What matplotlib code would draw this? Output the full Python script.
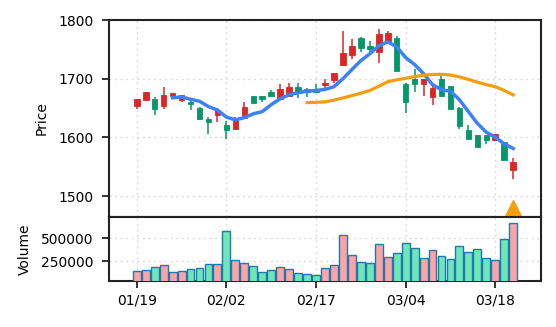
import numpy as np
import pandas as pd
import matplotlib
matplotlib.use("Agg")
import matplotlib.pyplot as plt

# daily candles (open / high / low / close) and volume
opens = [1653, 1664, 1665, 1653, 1670, 1664, 1660, 1650, 1631, 1638,
         1621, 1614, 1633, 1670, 1670, 1678, 1666, 1671, 1686, 1683,
         1683, 1689, 1698, 1724, 1741, 1770, 1755, 1745, 1764, 1769,
         1691, 1700, 1691, 1669, 1700, 1687, 1650, 1612, 1604, 1604,
         1595, 1592, 1544]
highs = [1666, 1678, 1669, 1686, 1676, 1673, 1663, 1651, 1634, 1650,
         1628, 1635, 1661, 1671, 1671, 1681, 1691, 1693, 1692, 1684,
         1691, 1699, 1710, 1782, 1768, 1771, 1764, 1785, 1781, 1772,
         1692, 1716, 1700, 1688, 1704, 1688, 1651, 1622, 1605, 1605,
         1606, 1593, 1565]
lows = [1649, 1662, 1639, 1649, 1669, 1661, 1647, 1630, 1606, 1627,
        1597, 1612, 1631, 1658, 1661, 1669, 1665, 1670, 1667, 1669,
        1675, 1684, 1692, 1721, 1733, 1745, 1744, 1726, 1762, 1714,
        1642, 1678, 1670, 1656, 1670, 1648, 1615, 1597, 1583, 1588,
        1594, 1562, 1529]
closes = [1665, 1677, 1648, 1673, 1675, 1672, 1657, 1631.5, 1627, 1646,
          1612, 1633, 1651, 1659, 1665, 1671, 1683, 1686, 1676, 1678,
          1677, 1692, 1709, 1744, 1756, 1753, 1750, 1777, 1778, 1714,
          1661, 1691, 1699, 1684, 1671, 1648, 1619, 1598, 1584, 1595,
          1606, 1562, 1559]
volumes = [144900, 155800, 188400, 210100, 134000, 145000, 166700, 177500, 221000, 221000,
           579700, 264500, 231900, 199300, 134000, 155800, 188400, 166700, 123000, 112300,
           101500, 177500, 210100, 536200, 318800, 242800, 231900, 438400, 297100, 340600,
           449300, 394900, 286200, 373200, 308000, 275400, 416700, 351400, 384100, 286200,
           264500, 492700, 666600]
tick_pos = [0, 10, 20, 30, 40]
tick_labels = ["01/19", "02/02", "02/17", "03/04", "03/18"]
signal_idx = [42]
signal_price = [1480]

df = pd.DataFrame({"Open": opens, "High": highs, "Low": lows,
                   "Close": closes, "Volume": volumes})
df["MA5"] = df["Close"].rolling(5).mean()
df["MA20"] = df["Close"].rolling(20).mean()
x = np.arange(len(df))
up = df["Close"] >= df["Open"]

up_col, down_col = "#dc2626", "#059669"
vol_up, vol_down = "#fca5a5", "#6ee7b7"

plt.rcParams["font.family"] = "DejaVu Sans"
fig = plt.figure(figsize=(5.56, 3.27), dpi=100)
ax = fig.add_axes([0.196, 0.3373, 0.777, 0.6015])
axv = fig.add_axes([0.196, 0.1398, 0.777, 0.1975], sharex=ax)

# candles
cols = np.where(up, up_col, down_col)
ax.vlines(x, df["Low"], df["High"], colors=cols, linewidth=1.1, zorder=2)
body_lo = np.minimum(df["Open"], df["Close"])
body_h = np.maximum(np.abs(df["Close"] - df["Open"]), 0.8)
ax.bar(x, body_h, bottom=body_lo, width=0.62, color=cols, edgecolor=cols,
       linewidth=0.6, zorder=3)

# moving averages
ax.plot(x, df["MA5"], color="#3b82f6", linewidth=2.5, zorder=4)
ax.plot(x, df["MA20"], color="#f59e0b", linewidth=2.3, zorder=4)
ax.plot(signal_idx, signal_price, linestyle="none", marker="^", markersize=12,
        color="#f59e0b", zorder=5, clip_on=True)

ax.set_ylim(1465, 1800)
ax.set_yticks([1500, 1600, 1700, 1800])
ax.set_ylabel("Price", fontsize=10, labelpad=7)
ax.set_xlim(-3.1, 45.1)
ax.tick_params(axis="x", which="both", bottom=False, labelbottom=False)

# volume
vcols = np.where(up, vol_up, vol_down)
axv.bar(x, df["Volume"], width=0.88, color=vcols, edgecolor="#1f77b4",
        linewidth=1.0, zorder=3)
axv.set_ylim(0.3 * min(volumes), 1.1 * max(volumes))
axv.set_yticks([250000, 500000])
axv.set_yticklabels(["250000", "500000"])
axv.set_ylabel("Volume", fontsize=10, labelpad=7)
axv.set_xticks(tick_pos)
axv.set_xticklabels(tick_labels)

for a in (ax, axv):
    a.grid(True, linestyle=(0, (1.5, 2.5)), color="#dddddd", linewidth=1.0, zorder=0)
    a.set_axisbelow(True)
    a.tick_params(labelsize=10, length=5, width=1.3, color="#222222")
    a.tick_params(axis="y", pad=6)
    for s in a.spines.values():
        s.set_linewidth(1.5)
        s.set_color("#222222")

fig.savefig("out.png", dpi=100)
